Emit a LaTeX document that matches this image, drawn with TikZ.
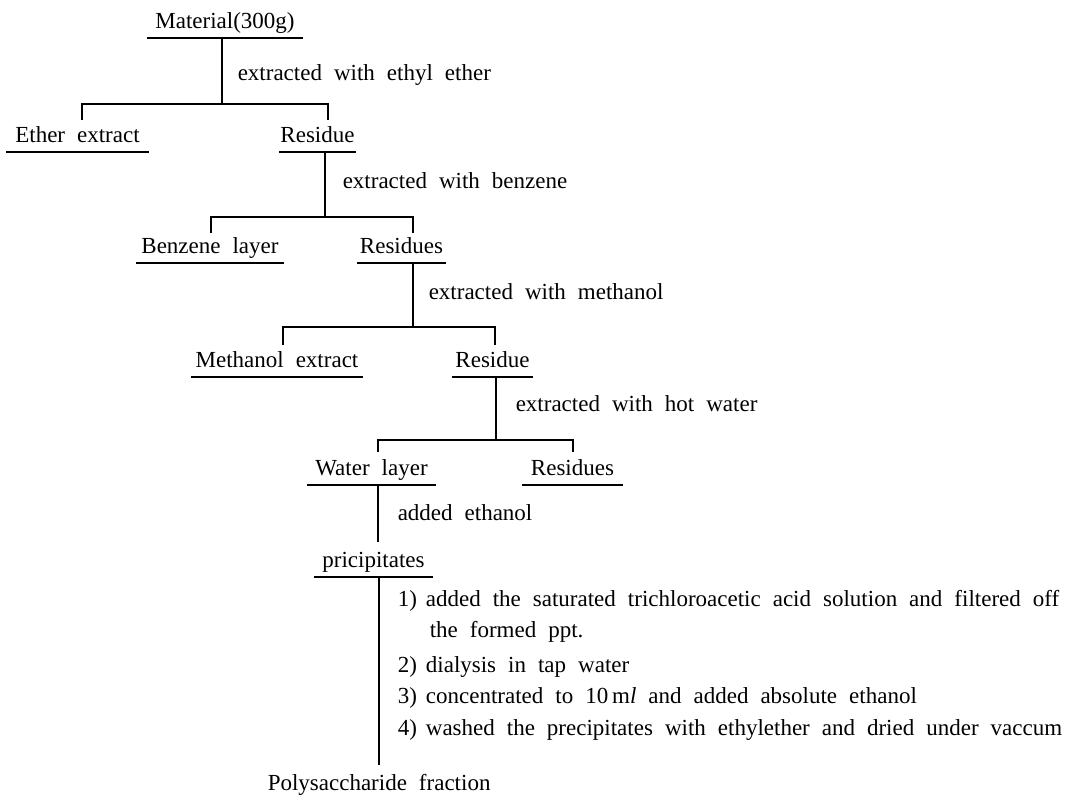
\documentclass[tikz,border=0pt]{standalone}
\usepackage{fontspec}
\setmainfont{Liberation Serif}
\newcommand\myfnt{\fontsize{23}{27}\selectfont\spaceskip=12pt plus 2pt minus 2pt\relax}
\begin{document}
\begin{tikzpicture}[x=1pt,y=-1pt,line width=1.5pt,
  fnt/.style={font=\myfnt},
  txt/.style={fnt,inner sep=0pt,anchor=base west},
  item/.style={fnt,inner xsep=0pt,inner ysep=0pt,text height=16pt,text depth=9pt,anchor=base},
  ul/.style={line width=1.5pt}]
\useasboundingbox (0,0) rectangle (1077,803);
% items (base centre, underline width)
\node[item,minimum width=154pt] (mat)  at (225,28)  {Material(300g)};
\node[item,minimum width=141pt] (eth)  at (77.5,142) {Ether extract};
\node[item,minimum width=75pt]  (res1) at (317.5,142) {Residue};
\node[item,minimum width=146pt] (ben)  at (210,253) {Benzene layer};
\node[item,minimum width=87pt]  (res2) at (401.5,253) {Residues};
\node[item,minimum width=170pt] (met)  at (277,367) {Methanol extract};
\node[item,minimum width=79pt]  (res3) at (492.5,367) {Residue};
\node[item,minimum width=127pt] (wat)  at (371.5,475) {Water layer};
\node[item,minimum width=99pt]  (res4) at (572.5,475) {Residues};
\node[item,minimum width=117pt] (pre)  at (373.5,567) {pricipitates};
\node[txt] (poly) at (267,790) {Polysaccharide fraction};
% underlines
\foreach \n in {mat,eth,res1,ben,res2,met,res3,wat,res4,pre}
  \draw[ul] (\n.south west) -- (\n.south east);
% step labels
\node[txt] (l1) at (237,80)  {extracted with ethyl ether};
\node[txt] (l2) at (342,188) {extracted with benzene};
\node[txt] (l3) at (428,299) {extracted with methanol};
\node[txt] (l4) at (515,411) {extracted with hot water};
\node[txt] (l5) at (397,520) {added ethanol};
\node[txt] (s1)  at (397,606) {1)\hspace{9pt}added the saturated trichloroacetic acid solution and filtered off};
\node[txt] (s1b) at (429,637) {the formed ppt.};
\node[txt] (s2)  at (397,672) {2)\hspace{9pt}dialysis in tap water};
\node[txt] (s3)  at (397,703) {3)\hspace{9pt}concentrated to 10\,m\textit{l} and added absolute ethanol};
\node[txt] (s4)  at (397,735) {4)\hspace{9pt}washed the precipitates with ethylether and dried under vaccum};
% junctions
\coordinate (j1) at (222,104);
\coordinate (j2) at (325,217);
\coordinate (j3) at (413,327);
\coordinate (j4) at (496,440);
% connectors
\draw (mat.south -| j1) -- (j1);
\draw (82,120) -- (82,104) -- (328,104) -- (328,120);
\draw (res1.south -| j2) -- (j2);
\draw (211,233) -- (211,217) -- (413,217) -- (413,233);
\draw (res2.south -| j3) -- (j3);
\draw (283,345) -- (283,327) -- (495,327) -- (495,345);
\draw (res3.south -| j4) -- (j4);
\draw (378,452) -- (378,440) -- (573,440) -- (573,452);
\coordinate (j5) at (378,542);
\draw (wat.south -| j5) -- (j5);
\coordinate (j6) at (379,765);
\draw (pre.south -| j6) -- (j6);
\end{tikzpicture}
\end{document}
